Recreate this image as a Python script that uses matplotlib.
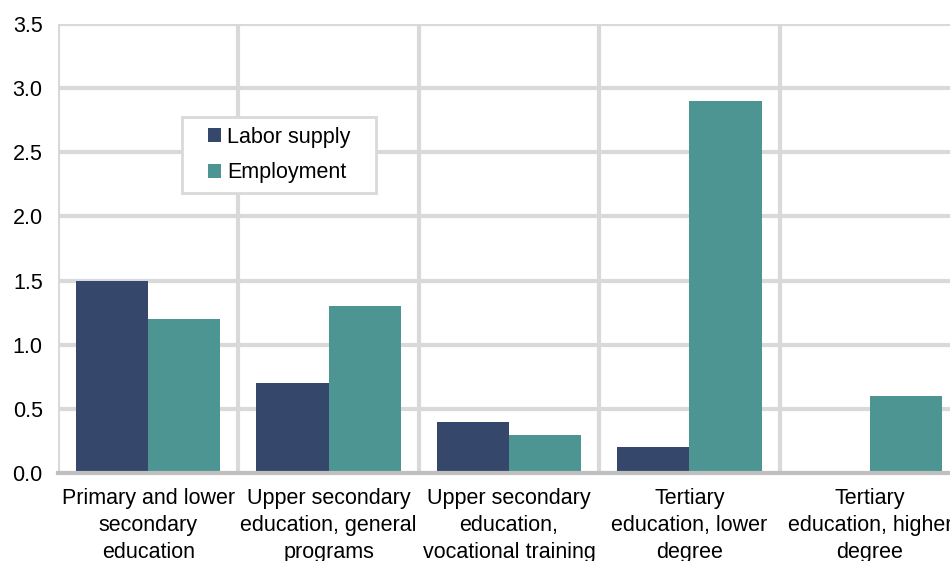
import matplotlib.pyplot as plt
from matplotlib.patches import Rectangle
import numpy as np

plt.rcParams['font.family'] = ['Liberation Sans', 'DejaVu Sans']

categories = [
    "Primary and lower\nsecondary\neducation",
    "Upper secondary\neducation, general\nprograms",
    "Upper secondary\neducation,\nvocational training",
    "Tertiary\neducation, lower\ndegree",
    "Tertiary\neducation, higher\ndegree",
]
labor_supply = [1.5, 0.7, 0.4, 0.2, 0.0]
employment = [1.2, 1.3, 0.3, 2.9, 0.6]
yticks = [0.0, 0.5, 1.0, 1.5, 2.0, 2.5, 3.0, 3.5]

navy = "#35486b"
teal = "#4c9592"
grid_col = "#d9d9d9"
fs = 15.5

fig = plt.figure(figsize=(9.5, 5.61), dpi=100)
# plot area runs past the right edge of the figure
ax = fig.add_axes([58 / 950, (561 - 473) / 561, 902 / 950, 449 / 561])

x = np.arange(len(categories))
w = 0.4
ax.bar(x - w / 2, labor_supply, w, color=navy, label="Labor supply", zorder=3)
ax.bar(x + w / 2, employment, w, color=teal, label="Employment", zorder=3)

ax.set_xlim(-0.5, len(categories) - 0.5)
ax.set_ylim(0, 3.5)
ax.set_yticks(yticks)
ax.set_yticklabels([f"{v:.1f}" for v in yticks], fontsize=fs)
ax.set_xticks(x)
ax.set_xticklabels(categories, fontsize=fs, linespacing=1.37)
ax.set_xticks(np.arange(len(categories) + 1) - 0.5, minor=True)

ax.grid(axis="y", which="major", color=grid_col, linewidth=3, zorder=0)
ax.grid(axis="x", which="minor", color=grid_col, linewidth=3, zorder=0)
ax.grid(axis="x", which="major", visible=False)
ax.tick_params(axis="both", which="both", length=0)
ax.tick_params(axis="x", pad=11)
ax.tick_params(axis="y", pad=11)

for side in ["top", "right", "left"]:
    ax.spines[side].set_visible(False)
ax.spines["bottom"].set_color("#bfbfbf")
ax.spines["bottom"].set_linewidth(3)
ax.spines["bottom"].set_zorder(4)

leg = ax.legend(loc="upper left", bbox_to_anchor=(0.166, 0.771),
                fontsize=fs, frameon=False, handlelength=0.6,
                handleheight=0.6, handletextpad=0.3, borderpad=0,
                labelspacing=0.68, borderaxespad=0)
leg.set_zorder(6)

# white box with a grey border around the legend, wider padding left/right
fig.canvas.draw()
bb = leg.get_window_extent()
padx, pady = 26, 10
box = Rectangle((bb.x0 - padx, bb.y0 - pady), bb.width + 2 * padx,
                bb.height + 2 * pady, transform=None, facecolor="white",
                edgecolor=grid_col, linewidth=2, zorder=5)
ax.add_artist(box)

fig.savefig("out.png", dpi=100)
